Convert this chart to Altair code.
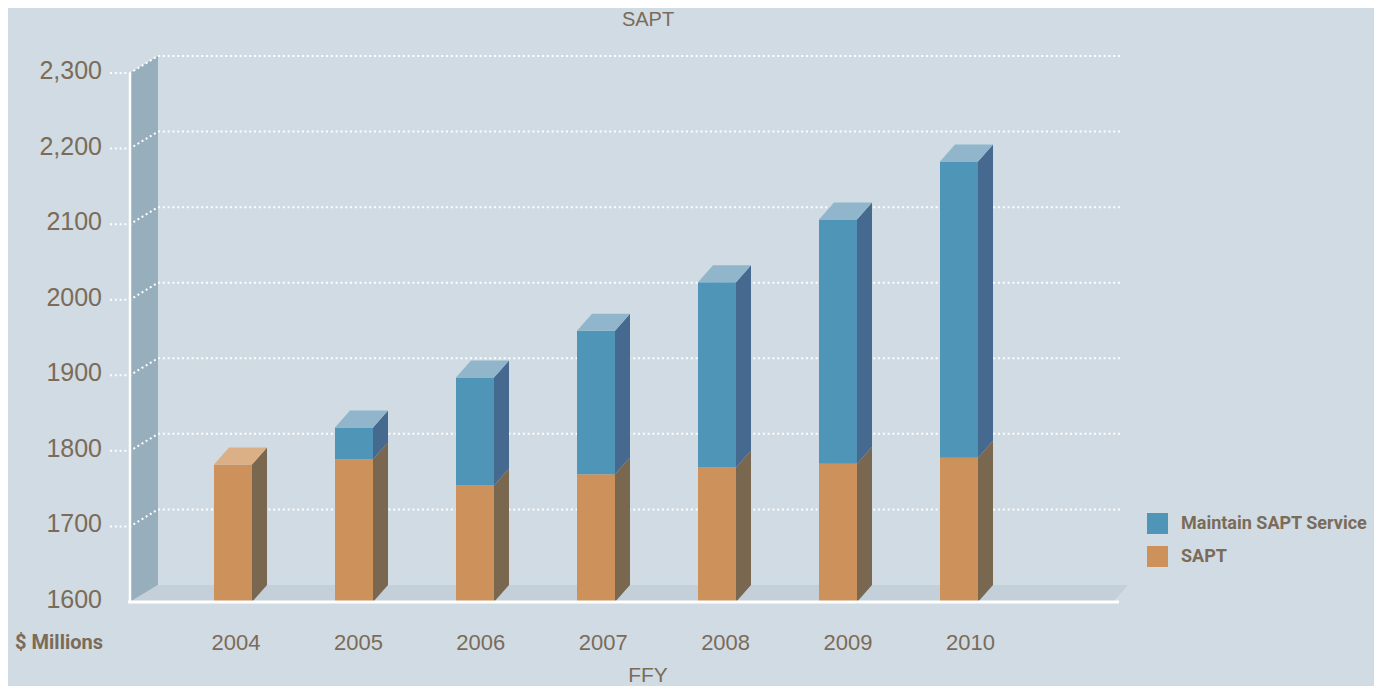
import altair as alt
import pandas as pd

# ---- data ----
years = [2004, 2005, 2006, 2007, 2008, 2009, 2010]
sapt = [1782, 1789, 1754, 1769, 1778, 1783, 1791]
maintain = [0, 42, 143, 190, 245, 323, 392]
series = ["Maintain SAPT Service", "SAPT"]
y_ticks = [1600, 1700, 1800, 1900, 2000, 2100, 2200, 2300]
y_tick_labels = ["1600", "1700", "1800", "1900", "2000", "2100", "2,200", "2,300"]
x_title = "FFY"
y_title = "$  Millions"
chart_title = "SAPT"

# ---- styling / geometry ----
BASE = 1600
YMAX = 2300
PLOT_W, PLOT_H = 1000, 529
PPY = 121.0                      # pixels per year step
X0 = 2004 - 103 / PPY            # front axis position
X1 = X0 + PLOT_W / PPY
BW = 19 / PPY                    # half bar width
DX = 15 / PPY                    # depth offset (x) of bars
WX = 28 / PPY                    # depth offset (x) of side wall
DY = 17 / (PLOT_H / (YMAX - BASE))  # depth offset (y) in value units
XF = X0 + 983 / PPY              # floor front-right
XG = X0 + 990 / PPY              # gridline right end
XL = X0 + 989 / PPY              # floor white line end

BG = "#d0dbe3"
TXT = "#7b6b58"
BLUE, ORANGE = "#4e95b8", "#cd915b"
BLUE_SIDE, ORANGE_SIDE = "#46698f", "#7a6750"
BLUE_TOP, ORANGE_TOP = "#91b6cc", "#dcb087"
WALL, FLOOR = "#97aebd", "#c3d0d9"
FONT = "Liberation Sans, Arial, sans-serif"
FONT_B = "Roboto, Liberation Sans, sans-serif"

# ---- build tables ----
segs = []
for yr, s, m in zip(years, sapt, maintain):
    segs.append(dict(year=yr, series="SAPT", lo=BASE, hi=s, seg=f"{yr}S", top=(m == 0)))
    if m > 0:
        segs.append(dict(year=yr, series="Maintain SAPT Service", lo=s, hi=s + m, seg=f"{yr}M", top=True))
seg_df = pd.DataFrame(segs)
front = seg_df.assign(x=seg_df.year - BW, x2=seg_df.year + BW)[["series", "x", "x2", "lo", "hi"]]

side_rows = []
for r in segs:
    side_rows.append(dict(seg=r["seg"], series=r["series"], sx=r["year"] + BW, slo=r["lo"], shi=r["hi"]))
    side_rows.append(dict(seg=r["seg"], series=r["series"], sx=r["year"] + BW + DX, slo=r["lo"] + DY, shi=r["hi"] + DY))
side_df = pd.DataFrame(side_rows)

top_rows = []
for r in segs:
    if r["top"]:
        top_rows.append(dict(seg=r["seg"], series=r["series"], ty=r["hi"], tx=r["year"] - BW, tx2=r["year"] + BW))
        top_rows.append(dict(seg=r["seg"], series=r["series"], ty=r["hi"] + DY, tx=r["year"] - BW + DX, tx2=r["year"] + BW + DX))
top_df = pd.DataFrame(top_rows)

wall_df = pd.DataFrame([dict(x=X0, y=BASE, y2=YMAX), dict(x=X0 + WX, y=BASE + DY, y2=YMAX + DY)])
floor_df = pd.DataFrame([dict(y=BASE, x=X0, x2=XF), dict(y=BASE + DY, x=X0 + WX, x2=XF + DX)])
vline_df = pd.DataFrame([dict(x=X0, y=BASE, y2=YMAX)])
hline_df = pd.DataFrame([dict(x=X0 - 2 / PPY, x2=XL, y=BASE)])

grid_rows = []
for v in y_ticks[1:]:
    pts = [(X0 - 20 / PPY, v), (X0, v), (X0 + WX, v + DY), (XG, v + DY)]
    for i, (gx, gy) in enumerate(pts):
        grid_rows.append(dict(tick=v, i=i, gx=gx, gy=gy))
grid_df = pd.DataFrame(grid_rows)

ylab_df = pd.DataFrame(dict(v=y_ticks, label=y_tick_labels))
xlab_df = pd.DataFrame(dict(year=years, label=[str(y) for y in years]))
texts_df = pd.DataFrame(dict(t=[y_title, x_title, chart_title]))

xs = alt.Scale(domain=[X0, X1], nice=False, zero=False)
ys = alt.Scale(domain=[BASE, YMAX], nice=False, zero=False)

wall = alt.Chart(wall_df).mark_area(color=WALL, opacity=1).encode(
    x=alt.X("x:Q", scale=xs, axis=None), y=alt.Y("y:Q", scale=ys, axis=None), y2="y2:Q")
floor = alt.Chart(floor_df).mark_area(color=FLOOR, orient="horizontal", opacity=1).encode(
    y=alt.Y("y:Q", scale=ys, axis=None), x=alt.X("x:Q", scale=xs, axis=None), x2="x2:Q")
grid = alt.Chart(grid_df).mark_line(color="white", strokeWidth=2, strokeDash=[2, 2.8]).encode(
    x=alt.X("gx:Q", scale=xs, axis=None), y=alt.Y("gy:Q", scale=ys, axis=None),
    detail="tick:N", order="i:Q")

bars = alt.Chart(front).mark_bar(strokeWidth=0, opacity=1).encode(
    x=alt.X("x:Q", scale=xs, axis=None), x2="x2:Q",
    y=alt.Y("lo:Q", scale=ys, axis=None), y2="hi:Q",
    color=alt.Color("series:N", scale=alt.Scale(domain=series, range=[BLUE, ORANGE]),
                    legend=alt.Legend(title=None, orient="none", legendX=1017, legendY=440,
                                      symbolType="square", symbolSize=441, symbolStrokeWidth=0,
                                      symbolOpacity=1, labelFont=FONT_B, labelFontSize=18,
                                      labelFontWeight="bold", labelColor=TXT, rowPadding=12,
                                      labelOffset=13, padding=0, labelLimit=300)))

def side_layer(name, col):
    return alt.Chart(side_df).transform_filter(alt.datum.series == name).mark_area(color=col, opacity=1).encode(
        x=alt.X("sx:Q", scale=xs, axis=None), y=alt.Y("slo:Q", scale=ys, axis=None), y2="shi:Q", detail="seg:N")

def top_layer(name, col):
    return alt.Chart(top_df).transform_filter(alt.datum.series == name).mark_area(
        color=col, orient="horizontal", opacity=1).encode(
        y=alt.Y("ty:Q", scale=ys, axis=None), x=alt.X("tx:Q", scale=xs, axis=None), x2="tx2:Q", detail="seg:N")

vline = alt.Chart(vline_df).mark_rule(color="white", strokeWidth=2.5).encode(
    x=alt.X("x:Q", scale=xs, axis=None), y=alt.Y("y:Q", scale=ys, axis=None), y2="y2:Q")
hline = alt.Chart(hline_df).mark_rule(color="white", strokeWidth=3).encode(
    x=alt.X("x:Q", scale=xs, axis=None), x2="x2:Q", y=alt.Y("y:Q", scale=ys, axis=None))

ylabels = alt.Chart(ylab_df).mark_text(align="right", baseline="middle", font=FONT, fontSize=25,
                                       color=TXT, dy=-2).encode(
    x=alt.value(-28), y=alt.Y("v:Q", scale=ys, axis=None), text="label:N")
xlabels = alt.Chart(xlab_df).transform_calculate(
    lx=f"datum.year + (3 + 1.4 * (datum.year - 2004)) / {PPY}"
).mark_text(align="center", baseline="middle", font=FONT, fontSize=22, color=TXT).encode(
    x=alt.X("lx:Q", scale=xs, axis=None), y=alt.value(PLOT_H + 41), text="label:N")
ytitle = alt.Chart(texts_df).transform_filter(alt.datum.t == y_title).mark_text(
    align="right", baseline="middle", font=FONT_B, fontSize=20, fontWeight="bold", color=TXT).encode(
    x=alt.value(-27), y=alt.value(PLOT_H + 41), text="t:N")
xtitle = alt.Chart(texts_df).transform_filter(alt.datum.t == x_title).mark_text(
    align="center", baseline="middle", font=FONT, fontSize=21, color=TXT).encode(
    x=alt.value(518), y=alt.value(PLOT_H + 74), text="t:N")
ttl = alt.Chart(texts_df).transform_filter(alt.datum.t == chart_title).mark_text(
    align="center", baseline="middle", font=FONT, fontSize=20, color=TXT).encode(
    x=alt.value(518), y=alt.value(-53.5), text="t:N")

chart = alt.layer(
    wall, floor, grid, bars,
    side_layer("SAPT", ORANGE_SIDE), side_layer("Maintain SAPT Service", BLUE_SIDE),
    top_layer("SAPT", ORANGE_TOP), top_layer("Maintain SAPT Service", BLUE_TOP),
    vline, hline, ylabels, xlabels, ytitle, xtitle, ttl,
).properties(
    width=PLOT_W, height=PLOT_H,
    padding={"left": 122, "top": 65, "right": 244, "bottom": 84},
    autosize=alt.AutoSizeParams(type="none"),
    background=BG,
).configure_view(strokeWidth=0)

chart.save("out.html", embed_options={"renderer": "svg", "actions": False})
